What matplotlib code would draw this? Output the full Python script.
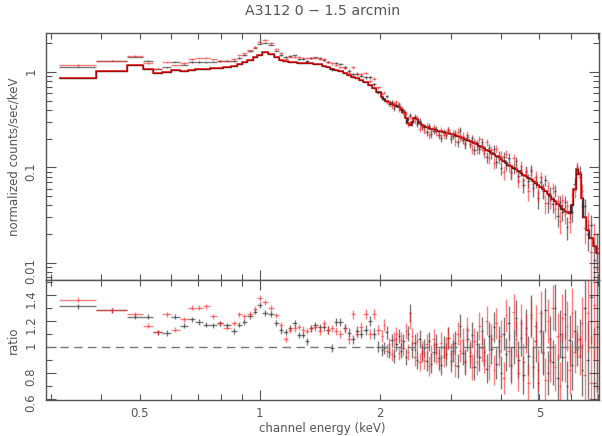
import numpy as np
import matplotlib
matplotlib.use("Agg")
import matplotlib.pyplot as plt
from matplotlib.ticker import FixedLocator, FixedFormatter, NullFormatter, LogLocator, MultipleLocator

# channel bin edges (keV), shared by both spectra
edges = [0.315, 0.39, 0.465, 0.51, 0.54, 0.57, 0.60, 0.63, 0.66, 0.69, 0.72,
         0.75, 0.78, 0.81, 0.845, 0.875, 0.90, 0.93, 0.96, 0.985, 1.015, 1.05,
         1.085, 1.115, 1.145, 1.175, 1.205, 1.24, 1.27, 1.295, 1.325, 1.36,
         1.395, 1.43, 1.46, 1.50, 1.535, 1.57, 1.61, 1.65, 1.69, 1.73, 1.77,
         1.815, 1.86, 1.905, 1.955,
         2.005, 2.035, 2.06, 2.09, 2.12, 2.15, 2.18, 2.21, 2.24, 2.27, 2.30,
         2.33, 2.36, 2.39, 2.42, 2.455, 2.49, 2.525, 2.56, 2.595, 2.63, 2.665,
         2.70, 2.74, 2.78, 2.82, 2.86, 2.90, 2.94, 2.98, 3.02, 3.06, 3.10,
         3.145, 3.19, 3.235, 3.28, 3.325, 3.37, 3.415, 3.465, 3.515, 3.565,
         3.615, 3.665, 3.715, 3.765, 3.82, 3.875, 3.93, 3.985, 4.04, 4.10,
         4.16, 4.22, 4.28, 4.34, 4.40, 4.465, 4.53, 4.595, 4.66, 4.725, 4.79,
         4.86, 4.93, 5.00, 5.07, 5.14, 5.21, 5.285, 5.36, 5.435, 5.51, 5.59,
         5.67, 5.75, 5.83, 5.91, 5.99,
         6.08, 6.17, 6.26, 6.35, 6.44, 6.55, 6.67, 6.79, 6.91, 7.05]

# folded model (normalized counts/sec/keV) per bin
model = [0.87, 1.03, 1.18, 1.07, 0.98, 1.01, 1.04, 1.03, 1.05, 1.07, 1.08,
         1.10, 1.11, 1.13, 1.16, 1.20, 1.27, 1.34, 1.42, 1.50, 1.61, 1.55,
         1.42, 1.35, 1.30, 1.28, 1.265, 1.25, 1.245, 1.24, 1.23, 1.22, 1.21,
         1.17, 1.12, 1.08, 1.05, 1.02, 0.975, 0.935, 0.895, 0.86, 0.83, 0.78,
         0.73, 0.68, 0.615,
         0.55, 0.52, 0.50, 0.48, 0.465, 0.45, 0.44, 0.425, 0.41, 0.38,
         0.33, 0.295, 0.28, 0.30, 0.33, 0.32, 0.29, 0.278, 0.27, 0.264,
         0.259, 0.255, 0.251, 0.247, 0.243, 0.239, 0.235, 0.231, 0.228, 0.225,
         0.222, 0.219, 0.215, 0.21, 0.205, 0.20, 0.195, 0.19, 0.185, 0.18,
         0.175, 0.169, 0.164, 0.158, 0.153, 0.148, 0.143, 0.137, 0.132, 0.127,
         0.122, 0.117, 0.112, 0.107, 0.103, 0.099, 0.095, 0.091, 0.087, 0.084,
         0.081, 0.078, 0.075, 0.072, 0.069, 0.066, 0.063, 0.060, 0.057, 0.053,
         0.050, 0.047, 0.044, 0.041, 0.039, 0.037, 0.035, 0.034, 0.033,
         0.040, 0.060, 0.097, 0.085, 0.048, 0.030, 0.022, 0.018, 0.015, 0.0125]

# data / model ratios
ratio_black = [1.31, 1.28, 1.23, 1.23, 1.11, 1.105, 1.23, 1.16, 1.21, 1.19,
               1.17, 1.165, 1.18, 1.165, 1.12, 1.17, 1.19, 1.234, 1.27, 1.32,
               1.26, 1.25, 1.18, 1.125, 1.115, 1.145, 1.18, 1.09, 1.09, 1.04,
               1.14, 1.165, 1.15, 1.15, 1.13, 0.99, 1.19, 1.19, 1.145, 1.107,
               1.057, 1.12, 1.10, 1.13, 1.20, 1.10, 1.00,
               0.975, 0.99, 1.11, 0.96, 1.05, 0.93, 1.02, 1.08, 0.97, 1.04,
               0.92, 1.10, 1.26, 0.98, 1.03, 0.90, 1.06, 0.95, 0.99, 0.89,
               1.04, 0.87, 0.96, 1.02, 0.91, 0.86, 1.00, 0.94, 1.07, 0.89,
               0.97, 1.03, 0.85, 1.16, 0.95, 0.88, 1.06, 0.93, 1.09, 0.84,
               1.02, 0.92, 1.12, 0.96, 0.83, 1.08, 0.98, 1.15, 0.87, 1.04,
               0.80, 1.10, 0.94, 1.18, 0.86, 1.00, 1.22, 0.90, 1.07, 0.78,
               1.14, 0.93, 1.24, 0.84, 1.04, 0.72, 1.12, 0.95, 1.28, 0.80,
               1.06, 0.88, 1.30, 0.76, 1.10, 0.92, 1.25, 0.70, 1.05,
               0.86, 1.12, 0.98, 1.06, 0.82, 1.30, 0.90, 1.38, 0.72, 1.15]
ratio_red = [1.36, 1.28, 1.25, 1.16, 1.11, 1.25, 1.13, 1.21, 1.30, 1.30,
             1.31, 1.235, 1.18, 1.145, 1.18, 1.25, 1.235, 1.255, 1.29, 1.375,
             1.34, 1.30, 1.24, 1.165, 1.057, 1.13, 1.14, 1.15, 1.13, 1.12,
             1.14, 1.15, 1.12, 1.18, 1.13, 1.14, 1.12, 1.10, 1.14, 1.057,
             1.25, 1.10, 1.15, 1.25, 1.10, 1.25, 1.13,
             1.08, 1.165, 0.97, 1.02, 0.94, 1.06, 1.10, 0.95, 1.05, 0.99,
             1.12, 0.96, 1.20, 1.08, 0.92, 1.04, 0.88, 0.97, 0.90, 1.02,
             0.85, 0.94, 1.06, 0.95, 0.89, 1.03, 0.92, 0.99, 1.07, 0.94,
             1.02, 0.86, 1.10, 0.97, 1.05, 0.89, 1.13, 0.96, 0.84, 1.04,
             0.88, 1.16, 0.99, 0.90, 1.20, 0.85, 1.06, 0.82, 1.18, 0.97,
             1.08, 0.76, 1.24, 0.97, 0.85, 1.27, 1.06, 0.80, 1.18, 0.88,
             1.10, 0.72, 1.22, 0.92, 1.16, 0.82, 1.26, 0.96, 0.74, 1.20,
             0.90, 1.30, 0.84, 1.08, 0.70, 1.22, 0.92, 1.16, 0.82,
             1.26, 0.96, 1.04, 0.93, 1.18, 0.78, 1.26, 0.72, 1.32, 0.68]
# 1-sigma error on the ratio
ratio_err = [0.02, 0.02, 0.02, 0.02, 0.02, 0.02, 0.02, 0.02, 0.02, 0.02,
             0.02, 0.02, 0.02, 0.02, 0.02, 0.02, 0.02, 0.02, 0.02, 0.022,
             0.022, 0.022, 0.022, 0.024, 0.024, 0.024, 0.025, 0.025, 0.026,
             0.026, 0.027, 0.027, 0.028, 0.028, 0.03, 0.03, 0.03, 0.032,
             0.032, 0.034, 0.035, 0.036, 0.037, 0.038, 0.039, 0.04, 0.04,
             0.045, 0.045, 0.05, 0.05, 0.05, 0.055, 0.055, 0.055, 0.06, 0.06,
             0.06, 0.06, 0.065, 0.065, 0.065, 0.07, 0.07, 0.07, 0.07, 0.075,
             0.075, 0.075, 0.075, 0.08, 0.08, 0.08, 0.08, 0.085, 0.085, 0.085,
             0.085, 0.09, 0.09, 0.09, 0.09, 0.095, 0.095, 0.095, 0.10, 0.10,
             0.10, 0.105, 0.105, 0.105, 0.11, 0.11, 0.115, 0.115, 0.12, 0.12,
             0.125, 0.125, 0.13, 0.13, 0.135, 0.135, 0.14, 0.14, 0.145, 0.145,
             0.15, 0.15, 0.155, 0.155, 0.16, 0.16, 0.165, 0.165, 0.17, 0.17,
             0.175, 0.175, 0.18, 0.18, 0.185, 0.185, 0.19, 0.19, 0.195,
             0.19, 0.16, 0.13, 0.15, 0.20, 0.26, 0.30, 0.36, 0.42, 0.50]

title = "A3112 0 \u2212 1.5 arcmin"

edges = np.array(edges)
model = np.array(model)
lo, hi = edges[:-1], edges[1:]
cen = np.sqrt(lo * hi)
xerr = [cen - lo, hi - cen]

txt = "#555555"
frame = "#555555"
plt.rcParams["font.family"] = ["DejaVu Sans"]
plt.rcParams["font.size"] = 8.5

fig = plt.figure(figsize=(6.02, 4.36), dpi=100)
ax1 = fig.add_axes([0.0756, 0.3578, 0.9195, 0.5665])
ax2 = fig.add_axes([0.0756, 0.0826, 0.9195, 0.2752], sharex=ax1)

series = [(ratio_black, "#222222", 0.6), (ratio_red, "#ff2a2a", 0.6)]
for r, col, a in series:
    r = np.array(r)
    err = np.array(ratio_err)
    ax1.errorbar(cen, model * r, xerr=xerr, yerr=model * err, fmt="none",
                 ecolor=col, elinewidth=1.0, alpha=a, capsize=0)
    ax2.errorbar(cen, r, xerr=xerr, yerr=err, fmt="none",
                 ecolor=col, elinewidth=1.0, alpha=a, capsize=0)

ax1.stairs(model, edges, color="#222222", lw=1.0, baseline=None)
ax1.stairs(model, edges, color="#e00000", lw=1.2, alpha=0.85, baseline=None)
ax2.axhline(1.0, color="#777777", lw=1.0, ls=(0, (6, 4)))

for ax in (ax1, ax2):
    ax.set_xscale("log")
    ax.set_xlim(0.291, 7.05)
    ax.xaxis.set_major_locator(FixedLocator([1]))
    ax.xaxis.set_minor_locator(FixedLocator([0.3, 0.4, 0.5, 0.6, 0.7, 0.8, 0.9,
                                             2, 3, 4, 5, 6, 7]))
    ax.tick_params(which="both", direction="in", top=True, right=True,
                   color=frame, labelcolor=txt, width=0.8)
    ax.tick_params(which="major", length=7)
    ax.tick_params(which="minor", length=4)
    ax.tick_params(axis="y", which="both", labelrotation=90, pad=6)
    for s in ax.spines.values():
        s.set_color(frame)
        s.set_linewidth(1.0)

ax1.set_yscale("log")
ax1.set_ylim(0.00659, 2.565)
ax1.yaxis.set_major_locator(FixedLocator([0.01, 0.1, 1]))
ax1.yaxis.set_major_formatter(FixedFormatter(["0.01", "0.1", "1"]))
ax1.yaxis.set_minor_locator(LogLocator(base=10, subs=np.arange(2, 10)))
ax1.yaxis.set_minor_formatter(NullFormatter())
ax1.tick_params(axis="x", which="both", labelbottom=False)

ax2.set_ylim(0.59, 1.513)
ax2.yaxis.set_major_locator(FixedLocator([0.6, 0.8, 1.0, 1.2, 1.4]))
ax2.yaxis.set_major_formatter(FixedFormatter(["0.6", "0.8", "1", "1.2", "1.4"]))
ax2.yaxis.set_minor_locator(MultipleLocator(0.1))
ax2.xaxis.set_major_formatter(FixedFormatter(["1"]))
ax2.xaxis.set_minor_formatter(FixedFormatter(["", "", "0.5", "", "", "", "",
                                              "2", "", "", "5", "", ""]))
ax2.tick_params(axis="x", which="both", pad=5)

ax1.set_ylabel("normalized counts/sec/keV", color=txt)
ax1.yaxis.set_label_coords(-0.046, 0.5)
ax2.set_ylabel("ratio", color=txt)
ax2.yaxis.set_label_coords(-0.046, 0.5)
ax2.set_xlabel("channel energy (keV)", color=txt)
ax2.xaxis.set_label_coords(0.5, -0.18)
ax1.set_title(title, color=txt, pad=13)

fig.savefig("out.png", dpi=100)
